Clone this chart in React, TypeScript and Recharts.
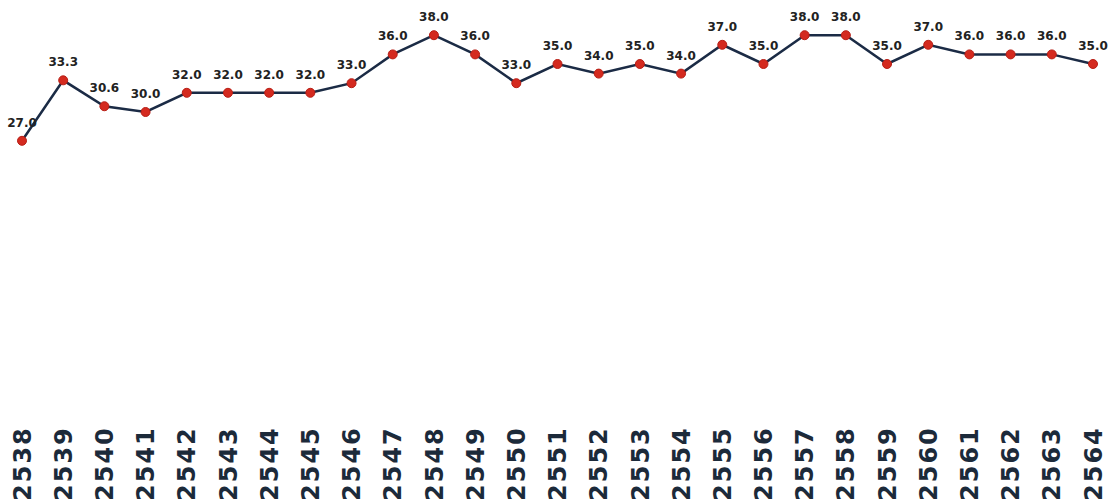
import { LineChart, Line, XAxis, YAxis, LabelList } from 'recharts'

const years = [
  '2538', '2539', '2540', '2541', '2542', '2543', '2544', '2545', '2546',
  '2547', '2548', '2549', '2550', '2551', '2552', '2553', '2554', '2555',
  '2556', '2557', '2558', '2559', '2560', '2561', '2562', '2563', '2564',
]

const values = [
  27.0, 33.3, 30.6, 30.0, 32.0, 32.0, 32.0, 32.0, 33.0,
  36.0, 38.0, 36.0, 33.0, 35.0, 34.0, 35.0, 34.0, 37.0,
  35.0, 38.0, 38.0, 35.0, 37.0, 36.0, 36.0, 36.0, 35.0,
]

const data = years.map((year, i) => ({ year, value: values[i] }))

const LINE_COLOR = '#1b2b45'
const DOT_COLOR = '#d42a1f'

const YearTick = ({ x, payload }: any) => {
  const baseY = 501
  return (
    <text
      x={x}
      y={baseY}
      dy="0.36em"
      transform={`rotate(-90, ${x}, ${baseY})`}
      textAnchor="start"
      fill="#1c2a3a"
      fontFamily="'DejaVu Sans', sans-serif"
      fontWeight="bold"
      fontSize={24}
      letterSpacing={2}
    >
      {payload.value}
    </text>
  )
}

export default function App() {
  return (
    <div style={{ position: 'absolute', left: 0, top: 0, background: '#fff' }}>
      <LineChart
        width={1116}
        height={504}
        data={data}
        margin={{ top: 16, right: 23, bottom: 4, left: 22 }}
      >
        <XAxis
          dataKey="year"
          height={100}
          axisLine={false}
          tickLine={false}
          interval={0}
          tick={<YearTick />}
        />
        <YAxis hide domain={[0, 40]} />
        <Line
          type="linear"
          dataKey="value"
          stroke={LINE_COLOR}
          strokeWidth={2.5}
          dot={{ r: 4.5, fill: DOT_COLOR, stroke: '#b81f16', strokeWidth: 1 }}
          activeDot={false}
          isAnimationActive={false}
        >
          <LabelList
            dataKey="value"
            position="top"
            offset={14}
            formatter={(v: any) => Number(v).toFixed(1)}
            fill="#222"
            fontFamily="'DejaVu Sans', sans-serif"
            fontWeight="bold"
            fontSize={12}
          />
        </Line>
      </LineChart>
    </div>
  )
}
